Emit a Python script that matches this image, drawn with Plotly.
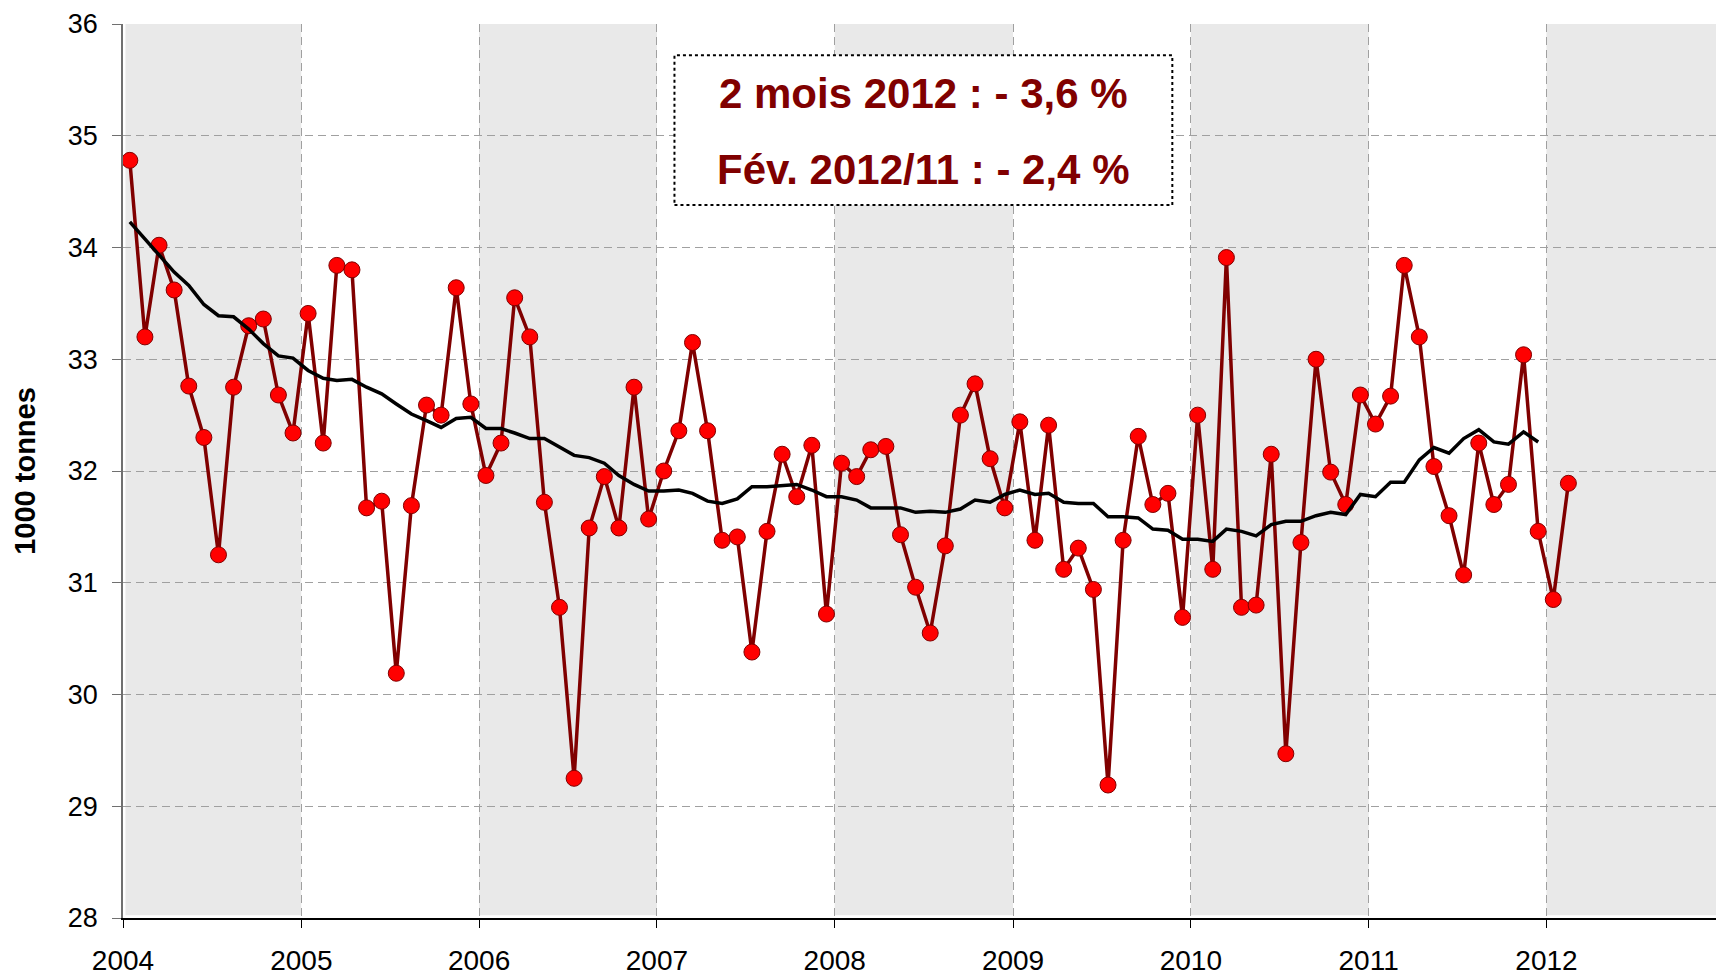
import pandas as pd
import plotly.graph_objects as go

# ---- data (1000 tonnes), monthly Jan 2004 - Feb 2012 ----
start_month = "2004-01-01"
values_2004 = [34.78, 33.20, 34.02, 33.62, 32.76, 32.30, 31.25, 32.75, 33.30, 33.36, 32.68, 32.34]
values_2005 = [33.41, 32.25, 33.84, 33.80, 31.67, 31.73, 30.19, 31.69, 32.59, 32.50, 33.64, 32.60]
values_2006 = [31.96, 32.25, 33.55, 33.20, 31.72, 30.78, 29.25, 31.49, 31.95, 31.49, 32.75, 31.57]
values_2007 = [32.00, 32.36, 33.15, 32.36, 31.38, 31.41, 30.38, 31.46, 32.15, 31.77, 32.23, 30.72]
values_2008 = [32.07, 31.95, 32.19, 32.22, 31.43, 30.96, 30.55, 31.33, 32.50, 32.78, 32.11, 31.67]
values_2009 = [32.44, 31.38, 32.41, 31.12, 31.31, 30.94, 29.19, 31.38, 32.31, 31.70, 31.80, 30.69]
values_2010 = [32.50, 31.12, 33.91, 30.78, 30.80, 32.15, 29.47, 31.36, 33.00, 31.99, 31.70, 32.68]
values_2011 = [32.42, 32.67, 33.84, 33.20, 32.04, 31.60, 31.07, 32.25, 31.70, 31.88, 33.04, 31.46]
values_2012 = [30.85, 31.89]

# 12-month moving average (Jan 2004 - Dec 2011)
ma_2004 = [34.23, 34.08, 33.94, 33.78, 33.66, 33.49, 33.39, 33.38, 33.27, 33.14, 33.03, 33.01]
ma_2005 = [32.90, 32.83, 32.81, 32.82, 32.75, 32.69, 32.60, 32.51, 32.45, 32.39, 32.47, 32.48]
ma_2006 = [32.38, 32.38, 32.34, 32.29, 32.29, 32.21, 32.14, 32.12, 32.07, 31.96, 31.88, 31.82]
ma_2007 = [31.82, 31.83, 31.80, 31.73, 31.71, 31.75, 31.86, 31.86, 31.87, 31.88, 31.83, 31.77]
ma_2008 = [31.77, 31.74, 31.67, 31.67, 31.67, 31.63, 31.64, 31.63, 31.66, 31.74, 31.72, 31.79]
ma_2009 = [31.83, 31.79, 31.80, 31.72, 31.71, 31.71, 31.59, 31.59, 31.58, 31.48, 31.47, 31.39]
ma_2010 = [31.39, 31.37, 31.48, 31.46, 31.42, 31.52, 31.55, 31.55, 31.60, 31.63, 31.61, 31.79]
ma_2011 = [31.77, 31.90, 31.90, 32.10, 32.21, 32.16, 32.29, 32.37, 32.26, 32.24, 32.35, 32.26]

shaded_years = [2004, 2006, 2008, 2010, 2012]
year_ticks = [2004, 2005, 2006, 2007, 2008, 2009, 2010, 2011, 2012]
box_line1 = "2 mois 2012 : - 3,6 %"
box_line2 = "Fév. 2012/11 : - 2,4 %"
y_title = "1000 tonnes"

values = (values_2004 + values_2005 + values_2006 + values_2007 + values_2008
          + values_2009 + values_2010 + values_2011 + values_2012)
ma = ma_2004 + ma_2005 + ma_2006 + ma_2007 + ma_2008 + ma_2009 + ma_2010 + ma_2011

dates = pd.date_range(start_month, periods=len(values), freq="MS") + pd.Timedelta(days=14)
ma_dates = dates[:len(ma)]

DARK_RED = "#800000"
FONT = "Liberation Sans, Arial, sans-serif"

fig = go.Figure()
fig.add_trace(go.Scatter(
    x=dates, y=values, mode="lines+markers",
    line=dict(color=DARK_RED, width=3.5),
    marker=dict(size=16, color="#ff0000", line=dict(color=DARK_RED, width=1)),
    showlegend=False, hoverinfo="x+y",
))
fig.add_trace(go.Scatter(
    x=ma_dates, y=ma, mode="lines",
    line=dict(color="black", width=3.5),
    showlegend=False, hoverinfo="x+y",
))

shapes = []
for yr in shaded_years:
    x0 = f"{yr}-01-06" if yr == shaded_years[0] else f"{yr}-01-01"
    shapes.append(dict(
        type="rect", xref="x", yref="paper",
        x0=x0, x1=f"{yr + 1}-01-01", y0=0.003, y1=1,
        fillcolor="#e9e9e9", line=dict(width=0), layer="below",
    ))
# text box
shapes.append(dict(
    type="rect", xref="x", yref="y",
    x0="2007-02-06", x1="2009-11-24", y0=34.38, y1=35.72,
    fillcolor="white", line=dict(color="black", width=2, dash="dot"), layer="above",
))

annotations = [
    dict(x="2008-07-01", y=35.375, xref="x", yref="y", text=box_line1, showarrow=False,
         font=dict(family=FONT, size=42, color=DARK_RED, weight="bold")),
    dict(x="2008-07-01", y=34.70, xref="x", yref="y", text=box_line2, showarrow=False,
         font=dict(family=FONT, size=42, color=DARK_RED, weight="bold")),
]

fig.update_layout(
    width=1716, height=975,
    margin=dict(l=123, r=0, t=24, b=57),
    paper_bgcolor="white", plot_bgcolor="white",
    shapes=shapes, annotations=annotations,
    font=dict(family=FONT, color="black"),
)
fig.update_xaxes(
    type="date",
    range=["2004-01-01", "2012-12-14"],
    tickvals=[f"{y}-01-01" for y in year_ticks],
    ticktext=[str(y) for y in year_ticks],
    showgrid=True, gridcolor="#a0a0a0", gridwidth=1, griddash="8px,5px",
    showline=True, linecolor="black", linewidth=1.5,
    ticks="outside", ticklen=8, tickcolor="black", tickwidth=1,
    tickfont=dict(family=FONT, size=28, color="black"),
    ticklabelstandoff=9,
    zeroline=False,
)
fig.update_yaxes(
    range=[28, 36], dtick=1, tick0=28,
    showgrid=True, gridcolor="#a0a0a0", gridwidth=1, griddash="8px,5px",
    showline=True, linecolor="#707070", linewidth=1.5,
    ticks="outside", ticklen=9, tickcolor="#707070", tickwidth=1,
    tickfont=dict(family=FONT, size=27, color="black"),
    ticklabelstandoff=9,
    zeroline=False,
    title=dict(text=y_title, font=dict(family=FONT, size=29, color="black", weight="bold"),
               standoff=24),
)

fig.write_html(
    "out.html",
    config={"displayModeBar": False},
    post_script="document.body.style.margin='0';document.body.style.overflow='hidden';",
)
